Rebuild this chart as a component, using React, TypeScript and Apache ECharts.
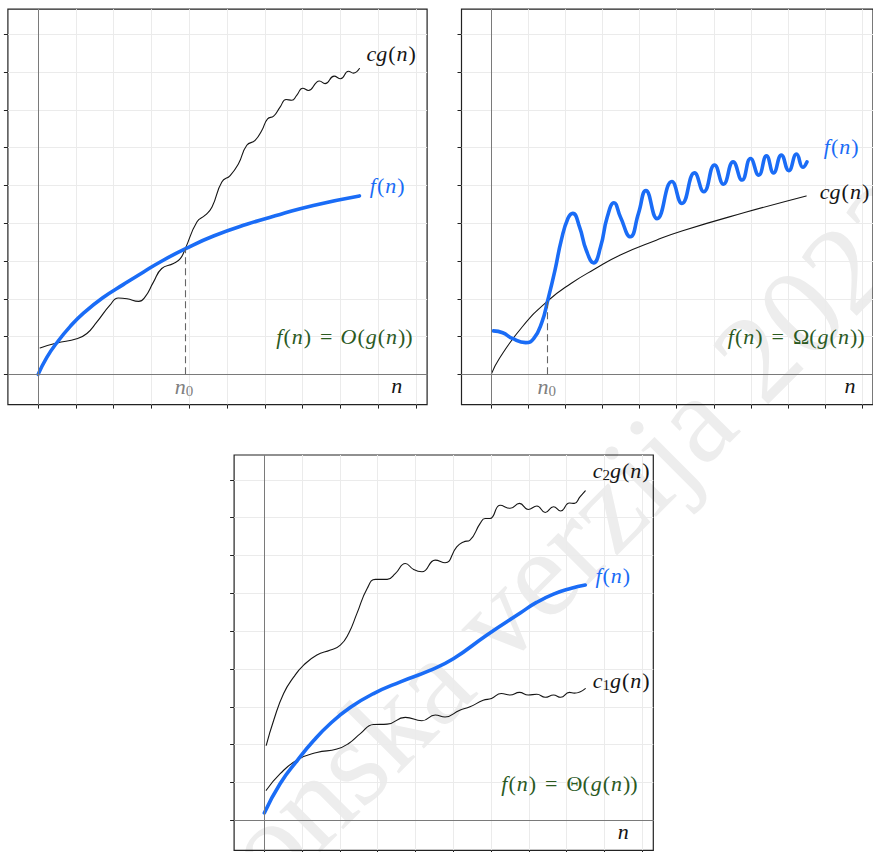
import React, { useEffect, useRef } from "react";
import * as echarts from "echarts";

// ---------- axis ticks / ranges ----------
const X_TICKS = [0, 1, 2, 3, 4, 5, 6, 7, 8, 9, 10];
const Y_TICKS = [0, 1, 2, 3, 4, 5, 6, 7, 8, 9];
const X_MIN = -0.8;
const X_MAX = 10.29;
const Y_MIN = -0.8;
const Y_MAX = 9.66;

// ---------- panel 1 : f(n) = O(g(n)) ----------
const bigO_cg: number[][] = [
  [0.05, 0.7], [0.49, 0.83], [1.02, 0.94], [1.29, 1.08], [1.55, 1.38], [1.9, 1.83],
  [2.12, 2.02], [2.35, 2.0], [2.66, 1.93], [2.83, 2.05], [3.05, 2.44], [3.27, 2.8],
  [3.58, 2.93], [3.76, 3.06], [3.89, 3.32], [4.2, 4.03], [4.42, 4.21], [4.6, 4.43],
  [4.86, 5.09], [5.08, 5.26], [5.3, 5.57], [5.52, 6.06], [5.74, 6.19], [5.92, 6.46],
  [6.07, 6.76], [6.23, 6.83], [6.4, 7.07], [6.56, 7.27], [6.71, 7.25], [6.84, 7.38],
  [7.0, 7.57], [7.15, 7.51], [7.37, 7.73], [7.44, 7.76], [7.59, 7.69], [7.83, 7.89],
  [8.0, 7.82], [8.21, 8.02], [8.34, 7.97], [8.5, 8.09],
];
const bigO_f: number[][] = [
  [0, 0], [0.23, 0.45], [0.49, 0.83], [0.85, 1.27], [1.2, 1.62], [1.73, 2.04],
  [2.26, 2.38], [2.79, 2.71], [3.31, 3.02], [3.89, 3.32], [4.64, 3.66], [5.52, 3.97],
  [6.4, 4.23], [7.28, 4.47], [8.5, 4.72],
];
const bigO_n0 = [3.89, 3.32];

// ---------- panel 2 : f(n) = Omega(g(n)) ----------
const omega_cg: number[][] = [
  [0, 0], [0.22, 0.42], [0.84, 1.26], [1.52, 1.94], [2.16, 2.41], [2.78, 2.78],
  [3.48, 3.16], [4.45, 3.55], [5.16, 3.8], [6.83, 4.28], [8.49, 4.72],
];
const omega_f: number[][] = [
  [0.06, 1.15], [0.31, 1.1], [0.57, 0.95], [0.93, 0.84], [1.15, 0.95], [1.37, 1.39],
  [1.52, 1.94], [1.72, 2.76], [1.89, 3.55], [2.07, 4.13], [2.2, 4.26], [2.38, 3.9],
  [2.56, 3.29], [2.76, 2.95], [2.95, 3.38], [3.13, 4.17], [3.31, 4.54], [3.48, 4.17],
  [3.75, 3.64], [3.97, 4.26], [4.17, 4.86], [4.47, 4.12], [4.87, 5.1], [5.14, 4.52],
  [5.48, 5.33], [5.73, 4.83], [6.02, 5.54], [6.26, 5.03], [6.52, 5.62], [6.76, 5.14],
  [6.99, 5.71], [7.21, 5.27], [7.42, 5.78], [7.61, 5.33], [7.82, 5.8], [8.02, 5.39],
  [8.23, 5.83], [8.4, 5.48], [8.51, 5.62],
];
const omega_n0 = [1.5, 1.94];

// ---------- panel 3 : f(n) = Theta(g(n)) ----------
const theta_c2g: number[][] = [
  [0.05, 1.98], [0.25, 2.65], [0.51, 3.35], [0.78, 3.79], [1.04, 4.1], [1.39, 4.37],
  [1.75, 4.5], [2.01, 4.63], [2.23, 4.94], [2.45, 5.47], [2.72, 6.13], [2.94, 6.37],
  [3.25, 6.37], [3.47, 6.53], [3.73, 6.79], [3.95, 6.63], [4.17, 6.57], [4.52, 6.88],
  [4.78, 6.81], [5.09, 7.23], [5.27, 7.36], [5.44, 7.41], [5.71, 7.85], [5.84, 7.98],
  [5.97, 7.98], [6.24, 8.33], [6.5, 8.25], [6.75, 8.38], [6.98, 8.22], [7.21, 8.31],
  [7.43, 8.14], [7.65, 8.29], [7.84, 8.18], [8.07, 8.39], [8.2, 8.38], [8.35, 8.55],
  [8.49, 8.71],
];
const theta_f: number[][] = [
  [0, 0.19], [0.42, 0.97], [0.88, 1.59], [1.3, 2.1], [1.74, 2.55], [2.27, 2.98],
  [2.89, 3.35], [3.6, 3.66], [4.35, 3.95], [5.0, 4.27], [5.89, 4.9], [6.77, 5.48],
  [7.2, 5.76], [7.65, 5.98], [8.1, 6.13], [8.49, 6.22],
];
const theta_c1g: number[][] = [
  [0.05, 0.79], [0.42, 1.23], [0.88, 1.6], [1.39, 1.79], [1.92, 1.88], [2.23, 2.03],
  [2.54, 2.29], [2.89, 2.53], [3.25, 2.54], [3.73, 2.72], [4.17, 2.63], [4.52, 2.78],
  [4.78, 2.73], [5.17, 2.91], [5.44, 3.0], [5.79, 3.17], [6.01, 3.22], [6.27, 3.35],
  [6.5, 3.31], [6.75, 3.38], [6.98, 3.31], [7.21, 3.33], [7.43, 3.25], [7.65, 3.31],
  [7.84, 3.25], [8.07, 3.38], [8.2, 3.36], [8.49, 3.48],
];

// ---------- style constants ----------
const BLUE = "#1a6cf6";
const GREEN = "#2b5a1f";
const GRAY = "#808080";
const INK = "#151515";
const FONT = "Liberation Serif";
const PANELS = [
  { left: 7.9, top: 9.2 },
  { left: 461.5, top: 9.2 },
  { left: 234.1, top: 455 },
];
const PW = 419.2;
const PH = 395.4;

const rich = {
  i: { fontFamily: FONT, fontStyle: "italic", fontSize: 22, lineHeight: 24 },
  r: { fontFamily: FONT, fontSize: 22, lineHeight: 24, padding: [0, 1, 0, 1] },
  eq: { fontFamily: FONT, fontSize: 22, lineHeight: 24, padding: [0, 8, 0, 8] },
  sub: { fontFamily: FONT, fontSize: 15, lineHeight: 24, verticalAlign: "bottom" },
};

function label(text: string, x: number, y: number, fill: string, align = "center") {
  return {
    type: "text",
    x,
    y,
    z: 20,
    silent: true,
    style: { text, fill, align, verticalAlign: "middle", rich },
  };
}

function curve(data: number[][], idx: number, color: string, width: number, z: number) {
  return {
    type: "line",
    xAxisIndex: idx,
    yAxisIndex: idx,
    data,
    smooth: 0.5,
    symbol: "none",
    showSymbol: false,
    silent: true,
    z,
    lineStyle: { color, width, cap: "round", join: "round" },
  };
}

function refLines(idx: number, n0?: number[]) {
  const d: any[] = [
    { xAxis: 0, lineStyle: { color: "#7a7a7a", width: 1, type: "solid" } },
    { yAxis: 0, lineStyle: { color: "#7a7a7a", width: 1, type: "solid" } },
  ];
  if (n0) {
    d.push([
      { coord: [n0[0], 0], lineStyle: { color: "#666", width: 1.1, type: [7, 4] } },
      { coord: [n0[0], n0[1]] },
    ]);
  }
  return {
    type: "line",
    xAxisIndex: idx,
    yAxisIndex: idx,
    data: [],
    z: 1,
    silent: true,
    markLine: {
      silent: true,
      symbol: ["none", "none"],
      label: { show: false },
      animation: false,
      data: d,
    },
  };
}

export default function App() {
  const ref = useRef<HTMLDivElement>(null);
  useEffect(() => {
    if (!ref.current) return;
    const chart = echarts.init(ref.current, undefined, { renderer: "svg" });
    const grid = PANELS.map((p) => ({
      left: p.left,
      top: p.top,
      width: PW,
      height: PH,
      show: true,
      borderColor: "#222",
      borderWidth: 1.2,
      backgroundColor: "transparent",
      containLabel: false,
    }));
    const xAxis = PANELS.map((_, i) => ({
      type: "value",
      gridIndex: i,
      min: X_MIN,
      max: X_MAX,
      position: "bottom",
      axisLine: { show: false, onZero: false },
      axisTick: { show: true, inside: false, length: 4, customValues: X_TICKS, lineStyle: { color: "#222", width: 1 } },
      axisLabel: { show: false },
      splitLine: { show: true, lineStyle: { color: "#ebebeb", width: 1 } },
    }));
    const yAxis = PANELS.map((_, i) => ({
      type: "value",
      gridIndex: i,
      min: Y_MIN,
      max: Y_MAX,
      position: "left",
      axisLine: { show: false, onZero: false },
      axisTick: { show: true, inside: false, length: 4, customValues: Y_TICKS, lineStyle: { color: "#222", width: 1 } },
      axisLabel: { show: false },
      splitLine: { show: true, lineStyle: { color: "#ebebeb", width: 1 } },
    }));

    const series: any[] = [
      refLines(0, bigO_n0),
      curve(bigO_cg, 0, INK, 1.1, 3),
      curve(bigO_f, 0, BLUE, 3.6, 4),
      refLines(1, omega_n0),
      curve(omega_cg, 1, INK, 1.1, 3),
      curve(omega_f, 1, BLUE, 3.6, 4),
      refLines(2),
      curve(theta_c2g, 2, INK, 1.1, 3),
      curve(theta_c1g, 2, INK, 1.1, 3),
      curve(theta_f, 2, BLUE, 3.6, 4),
    ];

    const graphic: any[] = [
      {
        type: "text",
        x: 28,
        y: 1085,
        rotation: Math.PI / 4,
        z: -10,
        silent: true,
        style: {
          text: "Elektronska verzija 2023",
          font: `normal 125px "${FONT}"`,
          fill: "#ededed",
          align: "left",
          verticalAlign: "middle",
        },
      },
      // panel 1
      label("{i|cg}{r|(}{i|n}{r|)}", 391.7, 53.3, INK),
      label("{i|f}{r|(}{i|n}{r|)}", 387.7, 185, BLUE),
      label("{i|f}{r|(}{i|n}{r|)}{eq|=}{i|O}{r|(}{i|g}{r|(}{i|n}{r|))}", 345, 336.7, GREEN),
      label("{i|n}", 396.7, 385, INK),
      label("{i|n}{sub|0}", 184, 386.7, GRAY),
      // panel 2
      label("{i|f}{r|(}{i|n}{r|)}", 841.7, 146.7, BLUE),
      label("{i|cg}{r|(}{i|n}{r|)}", 845, 191.7, INK),
      label("{i|f}{r|(}{i|n}{r|)}{eq|=}{r|Ω(}{i|g}{r|(}{i|n}{r|))}", 796.7, 336.7, GREEN),
      label("{i|n}", 850, 385, INK),
      label("{i|n}{sub|0}", 546.7, 386.7, GRAY),
      // panel 3
      label("{i|c}{sub|2}{i|g}{r|(}{i|n}{r|)}", 621.7, 470, INK),
      label("{i|f}{r|(}{i|n}{r|)}", 613.3, 575, BLUE),
      label("{i|c}{sub|1}{i|g}{r|(}{i|n}{r|)}", 621.7, 680, INK),
      label("{i|f}{r|(}{i|n}{r|)}{eq|=}{r|Θ(}{i|g}{r|(}{i|n}{r|))}", 570, 783.3, GREEN),
      label("{i|n}", 623.3, 831.7, INK),
    ];

    chart.setOption({
      animation: false,
      backgroundColor: "#ffffff",
      grid,
      xAxis,
      yAxis,
      series,
      graphic,
    });
    return () => chart.dispose();
  }, []);
  return (
    <div
      ref={ref}
      style={{ position: "absolute", left: 0, top: 0, width: 873, height: 852 }}
    />
  );
}
